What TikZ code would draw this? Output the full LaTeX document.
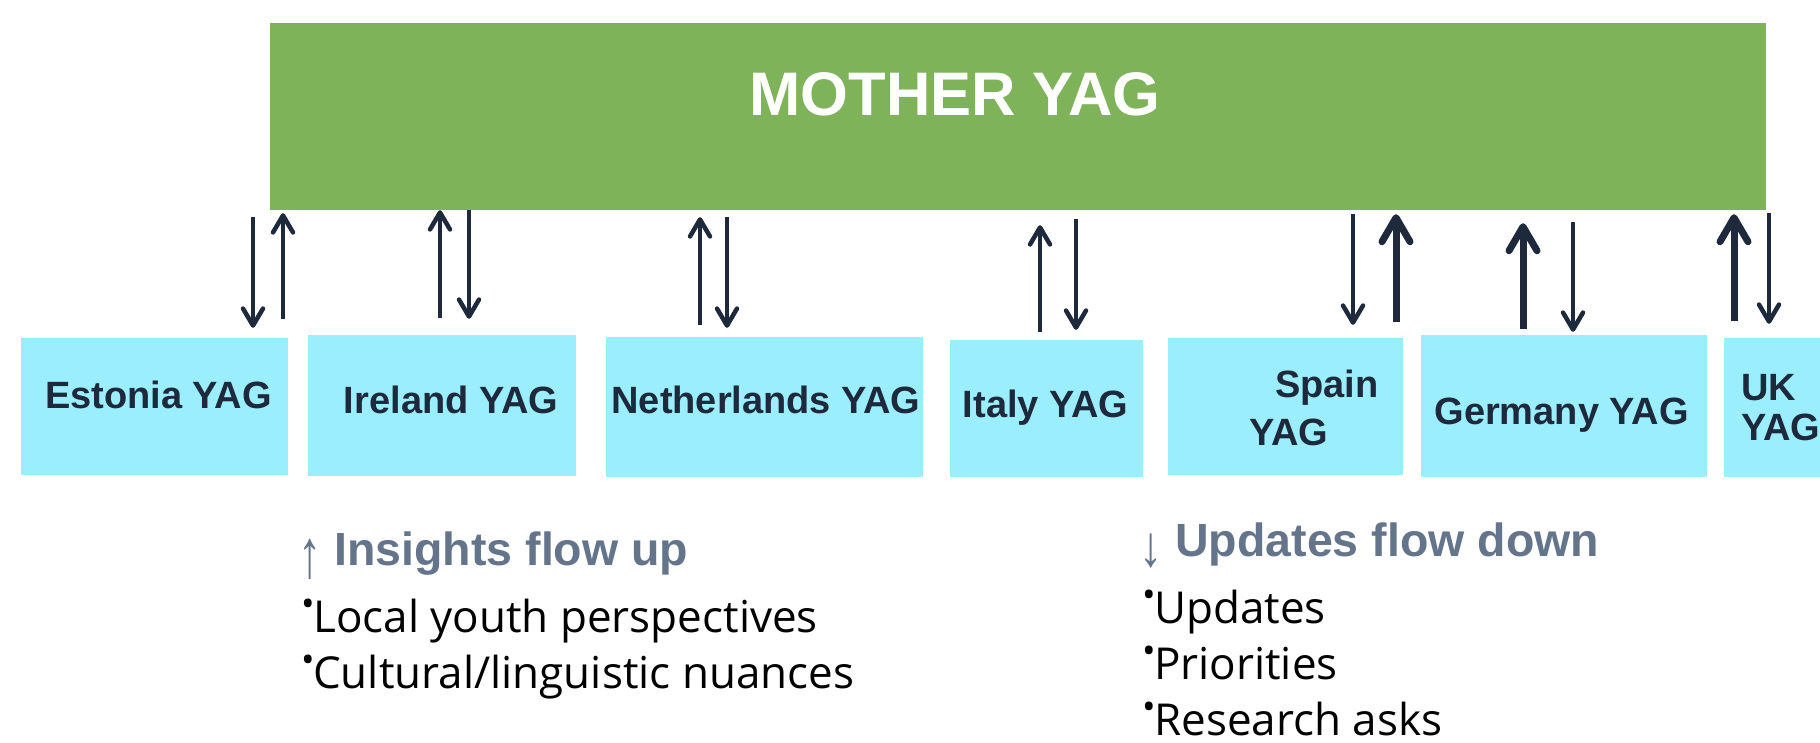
\documentclass[tikz,border=0pt]{standalone}
\usepackage{fontspec}
\setmainfont{Liberation Sans}
\newfontfamily\bulletfont{Open Sans}
\usepackage{tikz}
\definecolor{greenish}{RGB}{126, 179, 89}
\definecolor{cyanish}{RGB}{155, 238, 253}
\definecolor{navyish}{RGB}{30, 41, 59}
\definecolor{slateish}{RGB}{100, 116, 139}
\usetikzlibrary{arrows.meta,calc}
\newcommand{\bul}{\makebox[12pt][l]{\raisebox{16pt}{\fontsize{36}{36}\selectfont •}}}
\newcommand{\uparr}{\raisebox{-12pt}{\scalebox{1}[1.47]{\mdseries ↑}}}
\newcommand{\downarr}{\raisebox{-10pt}{\scalebox{1}[1.25]{\mdseries ↓}}}
\tikzset{
  mother_n/.style = {rectangle, fill=greenish, inner sep=0pt},
  mother_t/.style = {inner sep=0pt, anchor=base, white,
    font=\bfseries\fontsize{61.5}{70}\selectfont},
  yag_n/.style = {rectangle, fill=cyanish, inner sep=0pt},% national group box
  yag_t/.style = {inner sep=0pt, anchor=base, text=navyish,
    font=\bfseries\fontsize{38}{48}\selectfont},
  head_t/.style = {inner sep=0pt, anchor=base west, text=slateish,
    font=\bfseries\fontsize{46.5}{54}\selectfont},
  bul_t/.style = {inner sep=0pt, anchor=base west, black,
    font=\bulletfont\fontsize{44}{56}\selectfont},
  thin_a/.style = {navyish, line width=4.5pt,
    >={Straight Barb[length=17pt,width=20pt,round]}},
  bold_a/.style = {navyish, line width=7pt,
    >={Straight Barb[length=24pt,width=28pt,round]}},
  down_a/.style = {thin_a, ->},
  up_a/.style = {thin_a, <-},
  up_b/.style = {bold_a, <-},
}
\begin{document}
\begin{tikzpicture}[x=1pt, y=-1pt]
\useasboundingbox (0,0) rectangle (1820,742);
\clip (0,0) rectangle (1820,742);

\node [mother_n, minimum width=1496pt, minimum height=187pt] (mother) at (1018,116.5) {};
\node [mother_t] (mothertext) at (955,115) {MOTHER YAG};

\node [yag_n, minimum width=267pt, minimum height=137pt] (estonia) at (154.5,406.5) {};
\node [yag_n, minimum width=268pt, minimum height=141pt] (ireland) at (442,405.5) {};
\node [yag_n, minimum width=317pt, minimum height=140pt] (netherlands) at (764.5,407) {};
\node [yag_n, minimum width=193pt, minimum height=137pt] (italy) at (1046.5,408.5) {};
\node [yag_n, minimum width=235pt, minimum height=137pt] (spain) at (1285.5,406.5) {};
\node [yag_n, minimum width=286pt, minimum height=142pt] (germany) at (1564,406) {};
\node [yag_n, minimum width=126pt, minimum height=139pt] (uk) at (1787,407.5) {};

\node [yag_t] (estoniatext) at (158.5,408) {Estonia YAG};
\node [yag_t] (irelandtext) at (451,413) {Ireland YAG};
\node [yag_t] (netherlandstext) at (766,413) {Netherlands YAG};
\node [yag_t] (italytext) at (1045.5,417) {Italy YAG};
\node [yag_t, anchor=base west, align=left] (spaintext) at (1249,445) {\hspace*{26pt}Spain\\YAG};
\node [yag_t] (germanytext) at (1561.5,424) {Germany YAG};
\node [yag_t, anchor=base west, align=left] (uktext) at (1741,440) {UK\\[-8pt]YAG};

% arrows between mother and each group
\foreach \yag/\dx/\lo/\hi/\kind in {
    estonia/98.5/10/7/down_a, estonia/128.5/19/3/up_a,
    ireland/-2/17/0/up_a, ireland/27/16/0/down_a,
    netherlands/-64.5/12/7/up_a, netherlands/-37.5/9/7/down_a,
    italy/-6.5/8/15/up_a, italy/29.5/10/9/down_a,
    spain/67.5/13/4/down_a, spain/110.5/16/4/up_b,
    germany/-41/6/13/up_b, germany/9/3/12/down_a,
    uk/-53/17/4/up_b, uk/-18/14/3/down_a}
  \draw [\kind] ($(\yag.north |- mother.south)+(\dx,\hi)$) -- ($(\yag.north)+(\dx,-\lo)$);

\node [head_t] (insights) at (298,565) {\uparr{} Insights flow up};
\node [bul_t] (local) at (301,632) {\bul Local youth perspectives};
\node [bul_t] (cultural) at (301,688) {\bul Cultural/linguistic nuances};

\node [head_t] (updates) at (1139,556) {\downarr{} Updates flow down};
\node [bul_t] (upd) at (1142,623) {\bul Updates};
\node [bul_t] (prio) at (1142,679) {\bul Priorities};
\node [bul_t] (asks) at (1142,735) {\bul Research asks};
\end{tikzpicture}
\end{document}
